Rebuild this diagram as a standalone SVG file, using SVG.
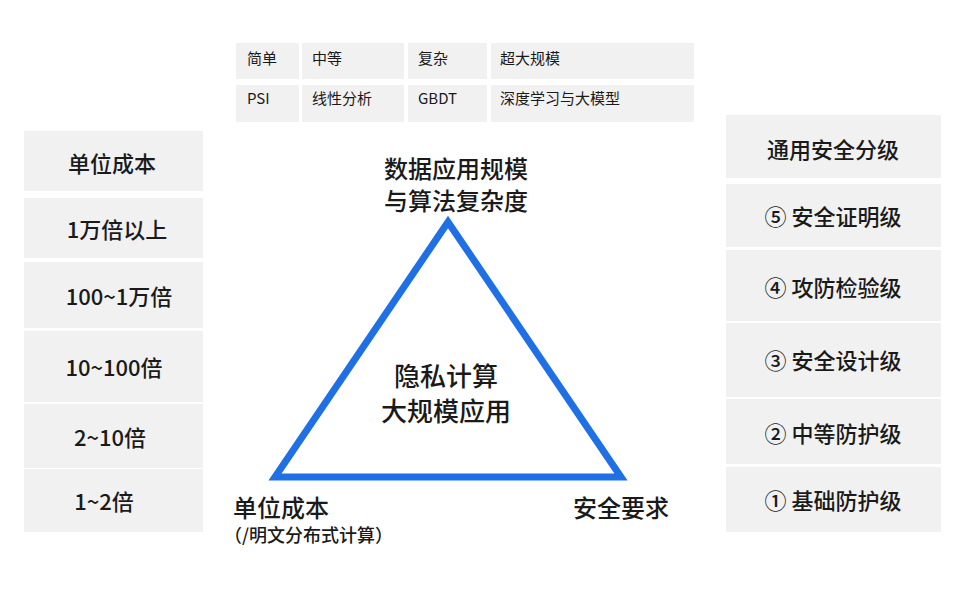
<svg xmlns="http://www.w3.org/2000/svg" width="957" height="592" viewBox="0 0 957 592">
<style>
text{font-family:"Noto Sans CJK SC","Noto Sans",sans-serif;fill:#1a1a1a;font-weight:500}
.box{fill:#f1f1f1}
.t{font-size:15px;font-weight:400}
.side{font-size:22px;text-anchor:middle;dominant-baseline:central}
.big{font-size:24px;text-anchor:middle;dominant-baseline:central}
</style>
<rect width="957" height="592" fill="#ffffff"/>
<g id="table">
<rect class="box" x="236" y="43" width="63" height="36"/>
<rect class="box" x="302" y="43" width="102" height="36"/>
<rect class="box" x="408" y="43" width="79" height="36"/>
<rect class="box" x="491" y="43" width="203" height="36"/>
<rect class="box" x="236" y="85" width="63" height="37"/>
<rect class="box" x="302" y="85" width="102" height="37"/>
<rect class="box" x="408" y="85" width="79" height="37"/>
<rect class="box" x="491" y="85" width="203" height="37"/>
<text class="t" x="247" y="64">简单</text>
<text class="t" x="312" y="64">中等</text>
<text class="t" x="418" y="64">复杂</text>
<text class="t" x="500" y="64">超大规模</text>
<text class="t" x="247" y="104">PSI</text>
<text class="t" x="312" y="104">线性分析</text>
<text class="t" x="418" y="104">GBDT</text>
<text class="t" x="500" y="104">深度学习与大模型</text>
</g>
<g id="cost">
<rect class="box" x="24" y="131" width="179" height="60"/>
<rect class="box" x="24" y="198" width="179" height="60"/>
<rect class="box" x="24" y="262" width="179" height="66"/>
<rect class="box" x="24" y="331" width="179" height="71"/>
<rect class="box" x="24" y="404" width="179" height="64"/>
<rect class="box" x="24" y="469" width="179" height="63"/>
<text class="side" x="112" y="162">单位成本</text>
<text class="side" x="117" y="228">1万倍以上</text>
<text class="side" x="119" y="295">100~1万倍</text>
<text class="side" x="114" y="366">10~100倍</text>
<text class="side" x="110" y="436">2~10倍</text>
<text class="side" x="104" y="500">1~2倍</text>
</g>
<g id="security">
<rect class="box" x="726" y="115" width="215" height="63"/>
<rect class="box" x="726" y="184" width="215" height="63"/>
<rect class="box" x="726" y="250" width="215" height="71"/>
<rect class="box" x="726" y="323" width="215" height="74"/>
<rect class="box" x="726" y="399" width="215" height="65"/>
<rect class="box" x="726" y="467" width="215" height="65"/>
<text class="side" x="833" y="148">通用安全分级</text>
<text class="side" x="833" y="215">⑤ 安全证明级</text>
<text class="side" x="833" y="286">④ 攻防检验级</text>
<text class="side" x="833" y="359">③ 安全设计级</text>
<text class="side" x="833" y="432">② 中等防护级</text>
<text class="side" x="833" y="499">① 基础防护级</text>
</g>
<g id="triangle">
<polygon points="448,222 275,477 621,477" fill="none" stroke="#1f6fe5" stroke-width="7" stroke-linejoin="miter"/>
<text class="big" x="456" y="167">数据应用规模</text>
<text class="big" x="456" y="199">与算法复杂度</text>
<text class="big" x="446" y="374" style="font-size:26px">隐私计算</text>
<text class="big" x="446" y="409" style="font-size:26px">大规模应用</text>
</g>
<g id="labels">
<text x="233" y="517" style="font-size:24px">单位成本</text>
<text x="224" y="542" style="font-size:18px">（/明文分布式计算）</text>
<text x="573" y="517" style="font-size:24px">安全要求</text>
</g>
</svg>
